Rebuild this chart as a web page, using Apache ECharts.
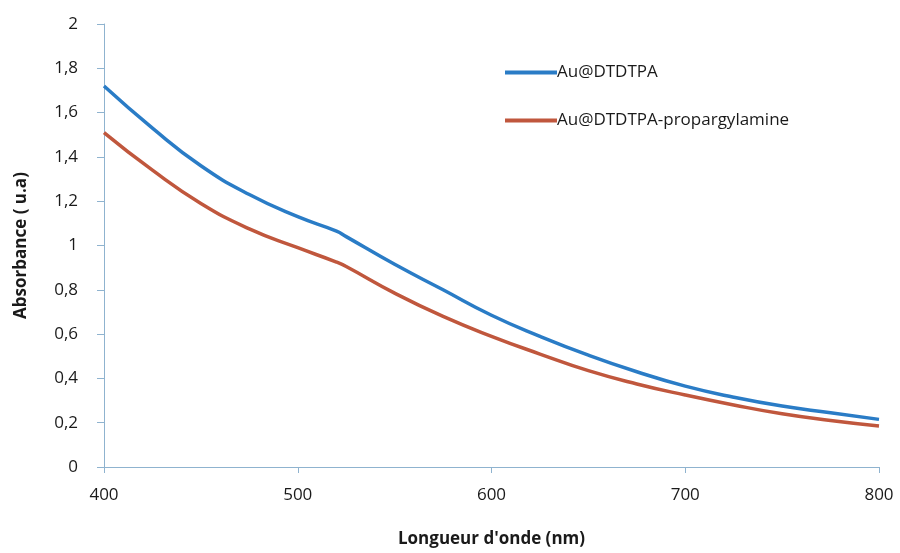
<!DOCTYPE html>
<html>
<head>
<meta charset="utf-8">
<script src="https://cdn.jsdelivr.net/npm/echarts@6/dist/echarts.min.js"></script>
<style>html,body{margin:0;padding:0;background:#fff}#c{width:900px;height:553px}</style>
</head>
<body>
<div id="c"></div>
<script>
const wavelengths = [400,425,450,475,500,520,525,550,575,600,625,650,675,700,725,750,775,800];
const auDTDTPA = [1.72,1.53,1.36,1.23,1.13,1.065,1.04,0.915,0.80,0.685,0.59,0.505,0.43,0.365,0.315,0.275,0.245,0.215];
const auDTDTPAProp = [1.51,1.34,1.19,1.075,0.99,0.925,0.905,0.785,0.68,0.59,0.51,0.435,0.375,0.325,0.28,0.24,0.21,0.185];
const seriesNames = ['Au@DTDTPA','Au@DTDTPA-propargylamine'];
const xTicks = [400,500,600,700,800];
const yTicks = [0,0.2,0.4,0.6,0.8,1,1.2,1.4,1.6,1.8,2];

const font = '"Open Sans", "Liberation Sans", sans-serif';
const axisCol = '#8fb3cf';
const chart = echarts.init(document.getElementById('c'));
const pair = (xs, ys) => xs.map((x,i)=>[x, ys[i]]);
chart.setOption({
  animation:false,
  grid:{left:104,right:21,top:24,bottom:79,containLabel:false},
  legend:{
    orient:'vertical', left:500, top:57, itemGap:27,
    icon:'rect', itemWidth:52, itemHeight:4,
    textStyle:{fontFamily:font,fontSize:17,color:'#1a1a1a',lineHeight:21,padding:[0,0,0,-5]},
    data:seriesNames
  },
  xAxis:{
    type:'value', min:400, max:800, interval:100,
    axisLine:{lineStyle:{color:axisCol,width:1}},
    axisTick:{show:true,length:6,lineStyle:{color:axisCol}},
    splitLine:{show:false},
    axisLabel:{fontFamily:font,fontSize:17,color:'#1a1a1a',margin:20,
      formatter:v=>xTicks.includes(v)?String(v):''},
    name:"Longueur d'onde (nm)", nameLocation:'middle', nameGap:64,
    nameTextStyle:{fontFamily:font,fontSize:17,fontWeight:'bold',color:'#1a1a1a'}
  },
  yAxis:{
    type:'value', min:0, max:2, interval:0.2,
    axisLine:{show:true,lineStyle:{color:axisCol,width:1}},
    axisTick:{show:true,length:7,lineStyle:{color:axisCol}},
    splitLine:{show:false},
    axisLabel:{fontFamily:font,fontSize:17,color:'#1a1a1a',margin:26,
      formatter:v=>{const t=yTicks.find(y=>Math.abs(y-v)<1e-6);return t===undefined?'':String(Math.round(t*10)/10).replace('.',',');}},
    name:'Absorbance ( u.a)', nameLocation:'middle', nameGap:74, nameRotate:90,
    nameTextStyle:{fontFamily:font,fontSize:17,fontWeight:'bold',color:'#1a1a1a'}
  },
  series:[
    {name:seriesNames[0],type:'line',data:pair(wavelengths,auDTDTPA),smooth:0.5,showSymbol:false,
     lineStyle:{color:'#2a7cc6',width:3.5},itemStyle:{color:'#2a7cc6'}},
    {name:seriesNames[1],type:'line',data:pair(wavelengths,auDTDTPAProp),smooth:0.5,showSymbol:false,
     lineStyle:{color:'#c0573d',width:3.5},itemStyle:{color:'#c0573d'}}
  ]
});
</script>
</body>
</html>
